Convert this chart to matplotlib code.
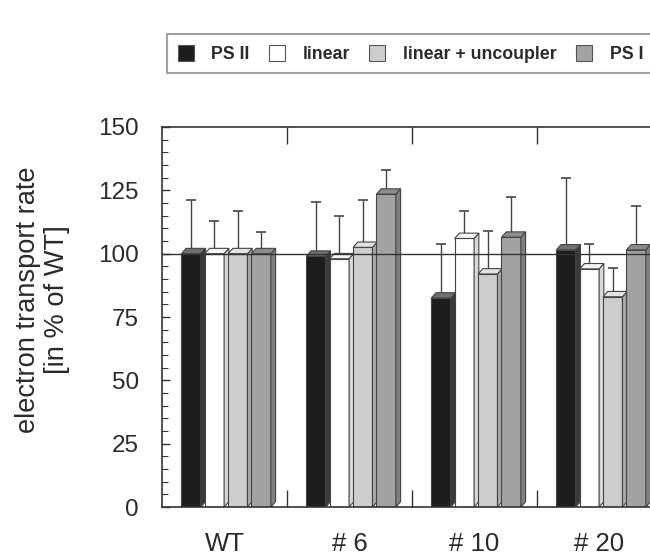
import matplotlib.pyplot as plt
from matplotlib.patches import Polygon, Patch
import numpy as np

plt.rcParams['font.family'] = ['Liberation Sans', 'DejaVu Sans']

# data
groups = ['WT', '# 6', '# 10', '# 20']
series = ['PS II', 'linear', 'linear + uncoupler', 'PS I']
ps2 = [100, 99, 82.5, 101.5]
linear = [100, 98, 106, 94]
uncoupler = [100, 102.5, 92, 83]
ps1 = [100, 123.5, 106.5, 101.5]
ps2_err = [21, 21.5, 21.5, 28.5]
linear_err = [13, 17, 11, 10]
uncoupler_err = [17, 18.5, 17, 11.5]
ps1_err = [8.5, 9.5, 16, 17.5]

values = [ps2, linear, uncoupler, ps1]
errors = [ps2_err, linear_err, uncoupler_err, ps1_err]
front = ['#1d1d1d', '#ffffff', '#cdcdcd', '#a2a2a2']
side = ['#3a3a3a', '#d8d8d8', '#a8a8a8', '#808080']
top = ['#707070', '#f4f4f4', '#e2e2e2', '#8c8c8c']

fig = plt.figure(figsize=(6.5, 5.56), dpi=100)
ax = fig.add_axes([0.2492, 0.0881, 0.7692, 0.6835])

w = 0.155
pitch = 0.187
dx, dy = 0.038, 2.1
x0 = np.arange(len(groups))

for i in range(4):
    lefts = x0 + 0.155 + pitch * i
    v = np.array(values[i])
    ax.bar(lefts, v, width=w, align='edge', color=front[i],
           edgecolor='#444444', linewidth=0.8, zorder=2)
    for l, h in zip(lefts, v):
        r = l + w
        ax.add_patch(Polygon([(r, 0), (r + dx, dy), (r + dx, h + dy), (r, h)],
                             closed=True, facecolor=side[i], edgecolor='#444444',
                             linewidth=0.8, zorder=2))
        ax.add_patch(Polygon([(l, h), (l + dx, h + dy), (r + dx, h + dy), (r, h)],
                             closed=True, facecolor=top[i], edgecolor='#444444',
                             linewidth=0.8, zorder=2))
    ax.errorbar(lefts + w / 2, v + dy / 2, yerr=[np.zeros(4), np.array(errors[i]) - dy / 2],
                fmt='none', ecolor='#444444', elinewidth=1.0, capsize=3.6,
                capthick=1.2, zorder=1)

ax.axhline(100, color='#333333', linewidth=1.0, zorder=4)

ax.set_xlim(0, 4)
ax.set_ylim(0, 150)
ax.set_yticks(np.arange(0, 151, 25))
ax.set_yticks(np.arange(0, 151, 5), minor=True)
ax.set_xticks([1, 2, 3])
ax.set_xticklabels([])
ax.set_xticks(x0 + 0.5, minor=True)
ax.set_xticklabels(groups, minor=True)
ax.tick_params(axis='x', which='major', direction='in', length=12, width=1.0,
               top=True, bottom=True, color='#333333')
ax.tick_params(axis='x', which='minor', length=0, pad=18, labelsize=18.5,
               labelcolor='#2a2a2a')
ax.tick_params(axis='y', which='major', direction='in', length=6, width=1.0,
               labelsize=17.5, pad=16.5, labelcolor='#2a2a2a', color='#333333')
ax.tick_params(axis='y', which='minor', direction='in', length=4, width=0.8,
               color='#333333')
for s in ax.spines.values():
    s.set_color('#333333')
    s.set_linewidth(1.2)

ax.set_ylabel('electron transport rate\n[in % of WT]', fontsize=19.6,
              color='#2a2a2a', linespacing=1.15)
ax.yaxis.set_label_coords(-0.184, 0.545)

handles = [Patch(facecolor=front[i], edgecolor='#555555', linewidth=0.8) for i in range(4)]
leg = fig.legend(handles, series, loc='upper left', bbox_to_anchor=(167 / 650, 1 - 34 / 556),
                 ncol=4, frameon=True, fancybox=False, borderaxespad=0,
                 prop={'weight': 'bold', 'size': 12.8}, handlelength=0.9,
                 handleheight=1.0, handletextpad=1.0, columnspacing=1.08,
                 borderpad=0.6)
leg.get_frame().set_edgecolor('#888888')
leg.get_frame().set_linewidth(1.5)
for t in leg.get_texts():
    t.set_color('#2a2a2a')

fig.savefig('out.png', dpi=100)
